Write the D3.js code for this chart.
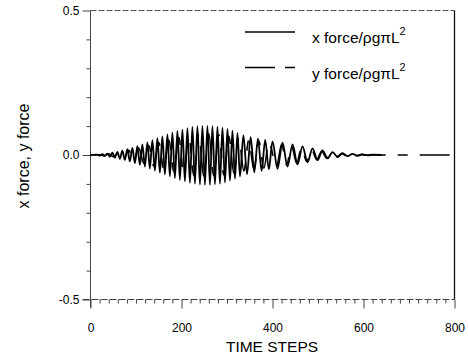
<!DOCTYPE html>
<html>
<head>
<meta charset="utf-8">
<script src="https://cdn.jsdelivr.net/npm/d3@7"></script>
<style>
  html, body { margin: 0; padding: 0; background: #fff; }
  svg { display: block; }
  text { font-family: "Liberation Sans", Arial, Helvetica, sans-serif; fill: #000; }
</style>
</head>
<body>
<svg id="chart" width="468" height="358"></svg>
<script>
// ---- data (local extrema of each trace) ----
const xTickValues = [0, 200, 400, 600, 800];
const yTickValues = [-0.5, 0.0, 0.5];
const yTickLabels = ["-0.5", "0.0", "0.5"];
const legendLabels = ["x force/\u03C1g\u03C0L", "y force/\u03C1g\u03C0L"];

const xForceT = [0, 15, 20.5, 26, 31.5, 37, 42.5, 48, 53.5, 59, 64.5, 70, 75.5, 81, 86.5, 92, 97.5,
  103, 108.5, 114, 119.5, 125, 130.5, 136, 141.5, 147, 152.5, 158, 163.5, 169, 174.5, 180, 185.5,
  191, 196.5, 202, 207.5, 213, 218.5, 224, 229.5, 235, 240.5, 246, 251.5, 257, 262.5, 268, 273.5,
  279, 284.5, 290, 295.5, 301, 306.5, 312, 317.5, 323, 328.5,
  336, 344, 352, 360, 368, 376, 384, 392, 400,
  411, 422, 433, 444, 455, 466, 477, 488, 499, 510, 521, 532, 543, 554, 565, 576, 587, 598, 609, 620, 640];
const xForceV = [0, 0.001, -0.002, 0.003, -0.004, 0.005, -0.006, 0.008, -0.009, 0.011, -0.013, 0.015, -0.017,
  0.02, -0.022, 0.025, -0.028, 0.031, -0.034, 0.037, -0.04, 0.044, -0.047, 0.051, -0.054, 0.058, -0.061,
  0.064, -0.067, 0.071, -0.074, 0.077, -0.08, 0.083, -0.086, 0.088, -0.091, 0.093, -0.096, 0.097, -0.099,
  0.1, -0.102, 0.101, -0.103, 0.101, -0.103, 0.1, -0.101, 0.098, -0.099, 0.095, -0.095, 0.09, -0.089,
  0.084, -0.082, 0.076, -0.074,
  0.068, -0.066, 0.062, -0.06, 0.057, -0.055, 0.052, -0.05, 0.047,
  -0.048, 0.043, -0.04, 0.037, -0.032, 0.03, -0.025, 0.023, -0.018, 0.016, -0.012, 0.01, -0.007, 0.006,
  -0.004, 0.004, -0.003, 0.002, -0.001, 0.001, 0];

const yForceT = [0, 18, 29, 40, 51, 62, 73, 84, 95, 106, 117, 128, 139, 150, 161, 172, 183, 194, 205,
  216, 227, 238, 249, 260, 271, 282, 293, 304, 315, 326, 337, 348, 359, 370, 381, 392,
  409, 420, 431, 442, 453, 464, 475, 486, 497, 508, 519, 530, 541, 552, 563, 574, 585, 596, 607, 618, 800];
const yForceV = [0, 0.001, -0.002, 0.004, -0.006, 0.009, -0.012, 0.016, -0.02, 0.024, -0.028, 0.033,
  -0.038, 0.043, -0.048, 0.053, -0.057, 0.061, -0.065, 0.068, -0.07, 0.072, -0.073, 0.073, -0.072,
  0.07, -0.068, 0.065, -0.062, 0.058, -0.055, 0.052, -0.05, 0.048, -0.046, 0.043,
  -0.04, 0.037, -0.034, 0.031, -0.028, 0.025, -0.022, 0.019, -0.016, 0.013, -0.011, 0.009, -0.007,
  0.005, -0.004, 0.003, -0.002, 0.002, -0.001, 0, 0];

// ---- layout ----
const svg = d3.select("#chart");
const pL = 90.5, pR = 454.5, pT = 10.5, pB = 299.5;

const x = d3.scaleLinear().domain([0, 800]).range([pL, pR]);
const y = d3.scaleLinear().domain([-0.5, 0.5]).range([pB, pT]);

// frame (top and right)
svg.append("line").attr("x1", pL).attr("x2", pR).attr("y1", pT).attr("y2", pT)
  .attr("stroke", "#555").attr("stroke-width", 1).attr("stroke-dasharray", "6,2");
svg.append("line").attr("x1", pR).attr("x2", pR).attr("y1", pT).attr("y2", pB)
  .attr("stroke", "#111").attr("stroke-width", 1.3);

// left axis
const yAxisMinor = d3.axisLeft(y).tickValues(d3.range(-0.4, 0.45, 0.1)).tickSize(4).tickFormat("");
const gYm = svg.append("g").attr("transform", `translate(${pL},0)`).call(yAxisMinor);
gYm.select(".domain").remove();
const yAxis = d3.axisLeft(y).tickValues(yTickValues).tickSize(8).tickPadding(3)
  .tickFormat((d, i) => yTickLabels[i]);
const gY = svg.append("g").attr("transform", `translate(${pL},0)`).call(yAxis);
gY.select(".domain").attr("d", `M0,${pT}V${pB + 8}`);
[gY, gYm].forEach(g => g.selectAll("line, path").attr("stroke", "#444"));
gY.selectAll("text").attr("font-size", 12).attr("font-family", "Liberation Sans, Arial, sans-serif").attr("fill", "#000");

// bottom axis
const xAxisMinor = d3.axisBottom(x).tickValues(d3.range(20, 800, 20).filter(v => v % 200 !== 0)).tickSize(4).tickFormat("");
const gXm = svg.append("g").attr("transform", `translate(0,${pB})`).call(xAxisMinor);
gXm.select(".domain").remove();
const xAxis = d3.axisBottom(x).tickValues(xTickValues).tickSize(9).tickPadding(15).tickFormat(d3.format("d"));
const gX = svg.append("g").attr("transform", `translate(0,${pB})`).call(xAxis);
gX.select(".domain").attr("d", `M${pL - 8},0H${pR}`).attr("stroke-dasharray", "7,2");
[gX, gXm].forEach(g => g.selectAll("line, path").attr("stroke", "#444"));
gX.selectAll("text").attr("font-size", 12).attr("font-family", "Liberation Sans, Arial, sans-serif").attr("fill", "#000");

// axis titles
svg.append("text").attr("x", 272).attr("y", 352).attr("text-anchor", "middle")
  .attr("font-size", 15.5).text("TIME STEPS");
svg.append("text").attr("transform", "translate(29,156) rotate(-90)").attr("text-anchor", "middle")
  .attr("font-size", 16).text("x force, y force");

// data lines
const line = d3.line().x(d => x(d[0])).y(d => y(d[1])).curve(d3.curveMonotoneX);
const xData = xForceT.map((t, i) => [t, xForceV[i]]);
const yData = yForceT.map((t, i) => [t, yForceV[i]]);

svg.append("path").datum(yData).attr("d", line).attr("fill", "none")
  .attr("stroke", "#000").attr("stroke-width", 1.6).attr("stroke-dasharray", "30,12,10,12");
svg.append("path").datum(xData).attr("d", line).attr("fill", "none")
  .attr("stroke", "#000").attr("stroke-width", 1.8);

// legend
const leg = svg.append("g");
const rows = [{ y: 32, dash: null }, { y: 67.5, dash: "30,10,10,10" }];
rows.forEach((r, i) => {
  leg.append("line").attr("x1", 245).attr("x2", 295).attr("y1", r.y).attr("y2", r.y)
    .attr("stroke", "#000").attr("stroke-width", 1.4).attr("stroke-dasharray", r.dash);
  const t = leg.append("text").attr("x", 312).attr("y", r.y + 11).attr("font-size", 15.5);
  t.append("tspan").text(legendLabels[i]);
  t.append("tspan").attr("dy", -8).attr("font-size", 11).text("2");
});
</script>
</body>
</html>
